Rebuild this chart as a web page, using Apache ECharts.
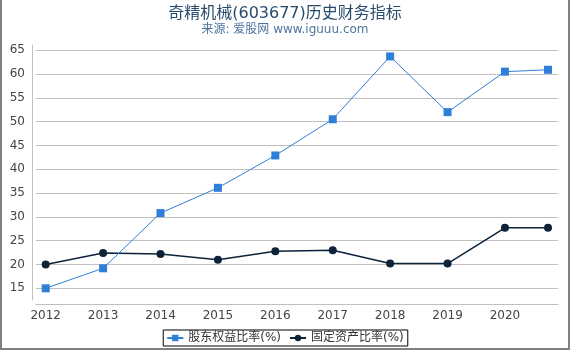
<!DOCTYPE html>
<html>
<head>
<meta charset="utf-8">
<script src="https://cdn.jsdelivr.net/npm/echarts@6/dist/echarts.min.js"></script>
<style>
html,body{margin:0;padding:0;background:#fff;}
#wrap{position:relative;width:570px;height:350px;}
#chart{width:570px;height:350px;}
#frame{position:absolute;left:0;top:0;width:570px;height:350px;box-sizing:border-box;border-left:2px solid #808080;border-right:2px solid #808080;border-bottom:2px solid #808080;pointer-events:none;}
</style>
</head>
<body>
<div id="wrap"><div id="chart"></div><div id="frame"></div></div>
<script>
var titleText = '奇精机械(603677)历史财务指标';
var subtitleText = '来源: 爱股网 www.iguuu.com';
var seriesNames = ['股东权益比率(%)', '固定资产比率(%)'];
var periods = [2012, 2013, 2014, 2015, 2016, 2017, 2018, 2019, 2020, 2020.75];
var equityRatio = [15.0, 19.2, 30.8, 36.1, 42.9, 50.5, 63.7, 52.0, 60.5, 60.9];
var fixedAssetRatio = [20.0, 22.4, 22.2, 21.0, 22.8, 23.0, 20.2, 20.2, 27.7, 27.7];

function pairs(xs, ys) { return xs.map(function (x, i) { return [x, ys[i]]; }); }

var FONT = 'DejaVu Sans, Noto Sans CJK SC, sans-serif';
var chart = echarts.init(document.getElementById('chart'), null, {renderer: 'canvas'});
chart.setOption({
  animation: false,
  backgroundColor: '#ffffff',
  title: {
    text: titleText,
    subtext: subtitleText,
    left: 'center',
    top: 1,
    itemGap: 2,
    textStyle: {fontFamily: FONT, fontSize: 16, fontWeight: 'normal', color: '#274b6d'},
    subtextStyle: {fontFamily: FONT, fontSize: 12, color: '#4d759e'}
  },
  legend: {
    bottom: 4,
    left: 'center',
    borderColor: '#000000',
    borderWidth: 1,
    borderRadius: 0,
    padding: [2, 4, 2, 3],
    itemGap: 8,
    itemWidth: 16,
    itemHeight: 8,
    textStyle: {fontFamily: FONT, fontSize: 12, color: '#333'},
    data: seriesNames
  },
  grid: {left: 36, right: 12, top: 45, bottom: 50, containLabel: false},
  xAxis: {
    type: 'value',
    min: 2011.831,
    max: 2020.924,
    minInterval: 1,
    maxInterval: 1,
    offset: 4,
    axisLine: {show: true, lineStyle: {color: '#C0C0C0', width: 1}},
    axisTick: {show: false},
    splitLine: {show: false},
    axisLabel: {
      showMinLabel: false, showMaxLabel: false,
      fontFamily: FONT, fontSize: 12, color: '#444', margin: 6,
      formatter: function (v) { return Math.abs(v - Math.round(v)) < 1e-6 ? String(Math.round(v)) : ''; }
    }
  },
  yAxis: {
    type: 'value',
    min: 12.54,
    max: 66.1,
    minInterval: 5,
    maxInterval: 5,
    offset: 4,
    axisLine: {show: true, lineStyle: {color: '#C0C0C0', width: 1}},
    axisTick: {show: false},
    splitLine: {show: true, showMinLine: false, showMaxLine: false, lineStyle: {color: '#C0C0C0', width: 1}},
    axisLabel: {
      showMinLabel: false, showMaxLabel: false,
      fontFamily: FONT, fontSize: 12, color: '#444', margin: 7,
      formatter: function (v) { return Math.abs(v / 5 - Math.round(v / 5)) < 1e-6 ? String(Math.round(v)) : ''; }
    }
  },
  series: [
    {
      name: seriesNames[0],
      type: 'line',
      data: pairs(periods, equityRatio),
      symbol: 'rect',
      symbolSize: 8,
      lineStyle: {color: '#2f7ed8', width: 1},
      itemStyle: {color: '#2f7ed8'},
      z: 3
    },
    {
      name: seriesNames[1],
      type: 'line',
      data: pairs(periods, fixedAssetRatio),
      symbol: 'circle',
      symbolSize: 8,
      lineStyle: {color: '#0d233a', width: 1.5},
      itemStyle: {color: '#0d233a'},
      z: 2
    }
  ]
});
</script>
</body>
</html>
